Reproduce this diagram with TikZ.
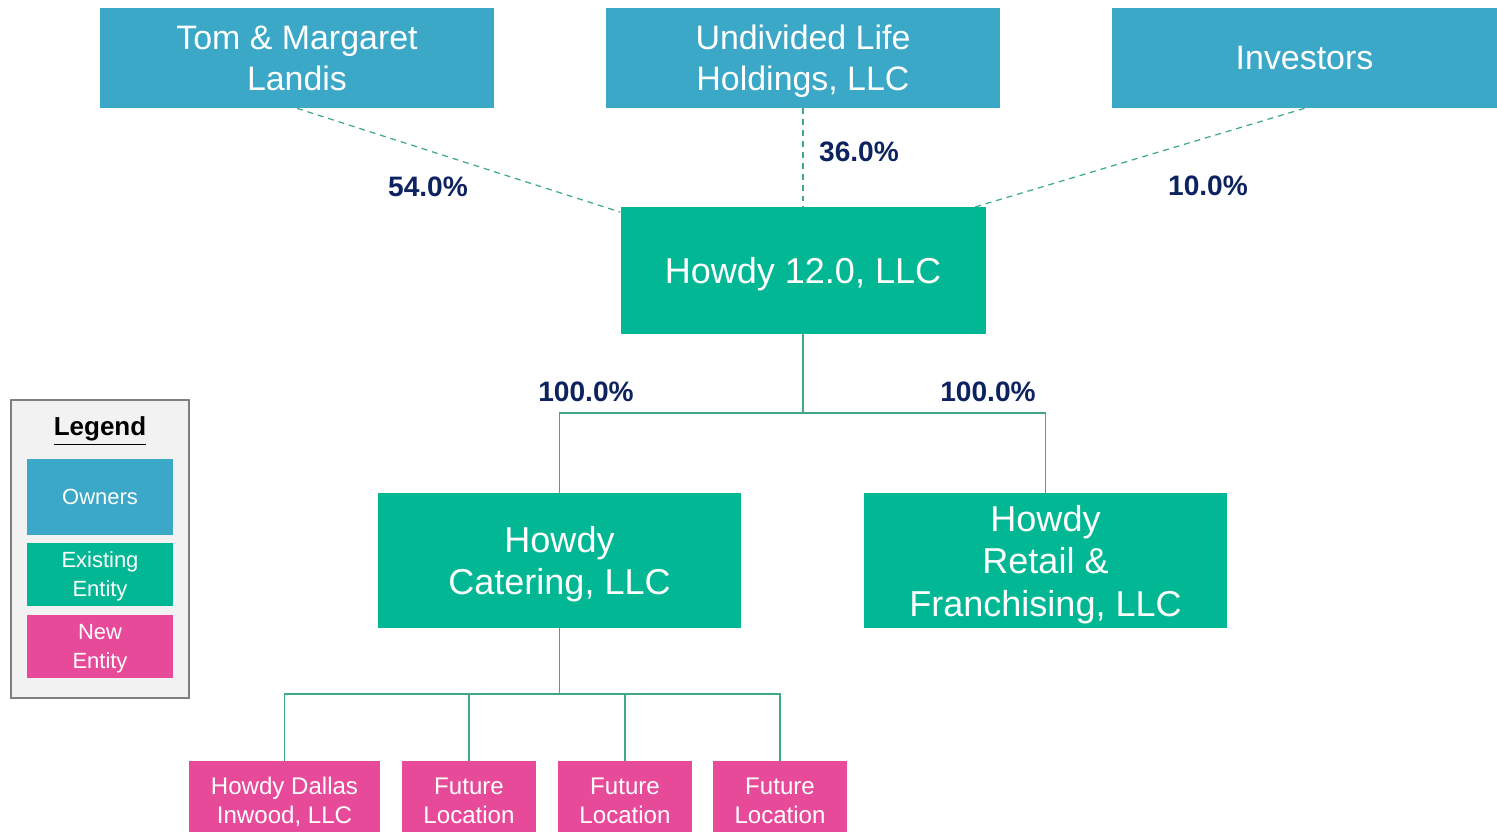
\documentclass[tikz,border=0pt]{standalone}
\usepackage{fontspec}
\setmainfont{Liberation Sans}
\usepackage{xcolor}

\definecolor{ownerblue}{HTML}{3CA8C8}
\definecolor{entgreen}{HTML}{02B894}
\definecolor{newpink}{HTML}{E84A9A}
\definecolor{pctnavy}{HTML}{0D2360}
\definecolor{linkgreen}{HTML}{3FA888}

\tikzset{
  box/.style={fill=#1, text=white, align=center, inner sep=0pt, text depth=0pt},
  owner/.style={box=ownerblue, minimum width=7.88cm, minimum height=2cm,
    font=\fontsize{19.3}{23.3}\selectfont},
  entity/.style={box=entgreen, minimum width=7.26cm, minimum height=2.7cm,
    font=\fontsize{20.5}{24.2}\selectfont},
  location/.style={box=newpink, minimum height=1.58cm,
    font=\fontsize{13.7}{16.5}\selectfont},
  pct/.style={text=pctnavy, font=\fontsize{16}{19}\selectfont\bfseries},
  own/.style={draw=linkgreen, line width=0.7pt, dash pattern=on 3.4pt off 2.8pt},
  link/.style={draw=linkgreen, line width=0.9pt}
}

\begin{document}
\begin{tikzpicture}
  \useasboundingbox (0,0) rectangle (29.94,-16.64);

  % owners
  \node[owner] (tom) at (5.94,-1.16) {Tom \& Margaret\\Landis};
  \node[owner] (ulh) at (16.06,-1.16) {Undivided Life\\Holdings, LLC};
  \node[owner, minimum width=7.7cm] (inv) at (26.09,-1.16) {Investors};

  % main entities
  \node[entity, minimum width=7.3cm, minimum height=2.54cm] (h12) at (16.06,-5.41) {Howdy 12.0, LLC};
  \node[entity] (cat) at (11.19,-11.21) {Howdy\\Catering, LLC};
  \node[entity] (ret) at (20.91,-11.21) {Howdy\\Retail \&\\Franchising, LLC};

  % new locations
  \node[location, minimum width=3.82cm] (dal) at (5.69,-16.01) {Howdy Dallas\\Inwood, LLC};
  \node[location, minimum width=2.68cm] (fut1) at (9.38,-16.01) {Future\\Location};
  \node[location, minimum width=2.68cm] (fut2) at (12.5,-16.01) {Future\\Location};
  \node[location, minimum width=2.68cm] (fut3) at (15.6,-16.01) {Future\\Location};

  % ownership lines
  \coordinate (invend) at (19.5,-4.14);
  \draw[own] (tom.south) -- (h12);
  \draw[own] (ulh.south) -- (h12.north);
  \draw[own] (inv.south) -- (invend);
  \node[pct] (p54) at (8.56,-3.74) {54.0\%};
  \node[pct] (p36) at (17.18,-3.04) {36.0\%};
  \node[pct] (p10) at (24.16,-3.72) {10.0\%};

  % subsidiaries
  \coordinate (split) at (16.06,-8.26);
  \draw[link] (h12.south) -- (split);
  \draw[link] (split) -| (cat.north);
  \draw[link] (split) -| (ret.north);
  \node[pct] (p100a) at (11.72,-7.84) {100.0\%};
  \node[pct] (p100b) at (19.76,-7.84) {100.0\%};

  \coordinate (split2) at (11.19,-13.88);
  \draw[link] (cat.south) -- (split2);
  \draw[link] (split2) -| (dal.north);
  \draw[link] (split2) -| (fut1.north);
  \draw[link] (split2) -| (fut2.north);
  \draw[link] (split2) -| (fut3.north);

  % legend
  \draw[draw=gray, fill=black!5, line width=1.4pt] (0.22,-8.0) rectangle (3.78,-13.96);
  \node[font=\fontsize{14.8}{17}\selectfont\bfseries] (leg) at (2.0,-8.62) {\underline{Legend}};
  \node[box=ownerblue, minimum width=2.92cm, minimum height=1.52cm,
    font=\fontsize{12.5}{16.5}\selectfont] (lown) at (2.0,-9.94) {Owners};
  \node[box=entgreen, minimum width=2.92cm, minimum height=1.26cm,
    font=\fontsize{12.5}{16.5}\selectfont] (lex) at (2.0,-11.49) {Existing\\Entity};
  \node[box=newpink, minimum width=2.92cm, minimum height=1.26cm,
    font=\fontsize{12.5}{16.5}\selectfont] (lnew) at (2.0,-12.93) {New\\Entity};
\end{tikzpicture}
\end{document}
